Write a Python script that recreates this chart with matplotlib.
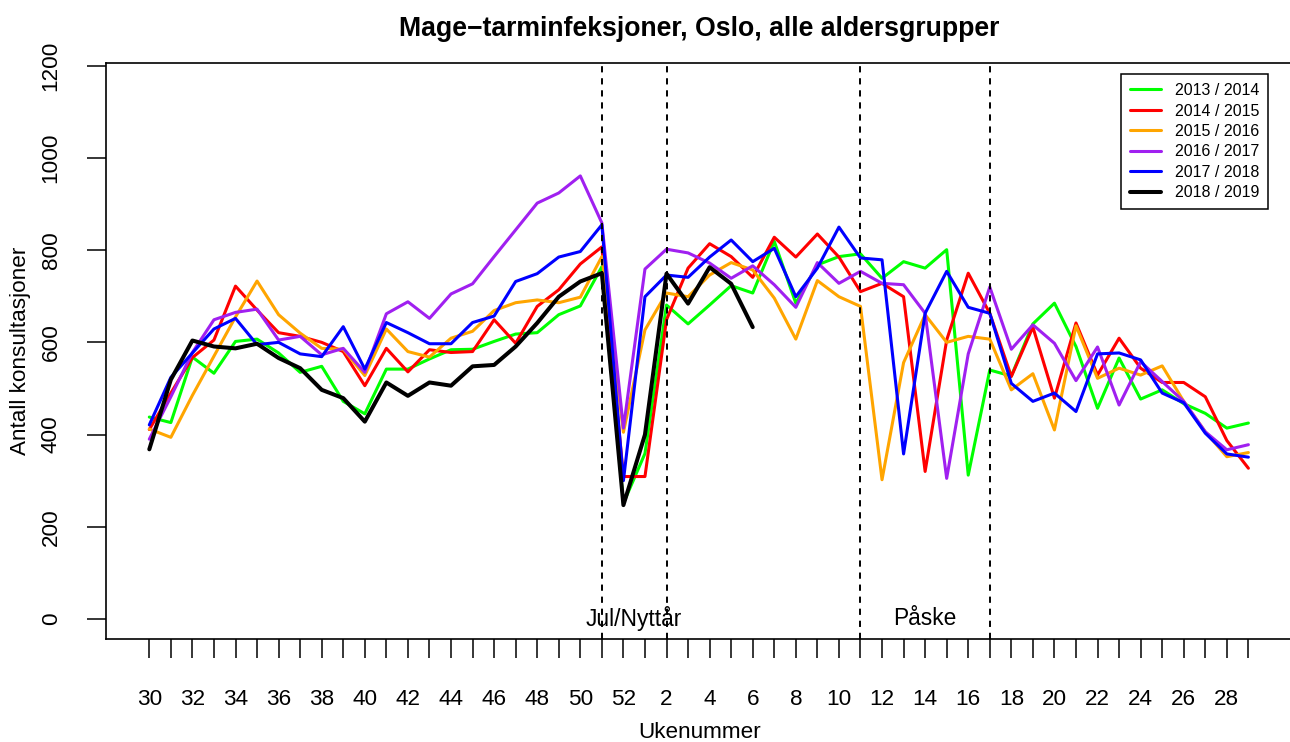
import matplotlib
matplotlib.use("Agg")
import matplotlib.pyplot as plt

plt.rcParams['font.family'] = ['Liberation Sans', 'DejaVu Sans']

# ---------------- data ----------------
weeks = [30, 31, 32, 33, 34, 35, 36, 37, 38, 39, 40, 41, 42, 43, 44, 45, 46, 47, 48, 49,
         50, 51, 52, 1, 2, 3, 4, 5, 6, 7, 8, 9, 10, 11, 12, 13, 14, 15, 16, 17, 18, 19,
         20, 21, 22, 23, 24, 25, 26, 27, 28, 29]
week_labels = ['30', '', '32', '', '34', '', '36', '', '38', '', '40', '', '42', '', '44', '',
               '46', '', '48', '', '50', '', '52', '', '2', '', '4', '', '6', '', '8', '',
               '10', '', '12', '', '14', '', '16', '', '18', '', '20', '', '22', '', '24', '',
               '26', '', '28', '']

season_labels = ['2013 / 2014', '2014 / 2015', '2015 / 2016',
                 '2016 / 2017', '2017 / 2018', '2018 / 2019']

s2013 = [438, 426, 568, 533, 602, 607, 577, 535, 548, 472, 445, 542, 542, 564, 584, 585,
         602, 618, 621, 660, 679, 764, 251, 359, 681, 640, 681, 723, 707, 819, 685, 768,
         786, 792, 739, 775, 761, 801, 312, 540, 527, 640, 685, 591, 457, 566, 477, 497,
         467, 446, 414, 425]
s2014 = [411, 490, 567, 605, 722, 670, 621, 613, 600, 580, 506, 587, 536, 584, 578, 580,
         649, 598, 678, 714, 770, 807, 309, 309, 649, 761, 814, 786, 741, 828, 785, 835,
         785, 710, 728, 699, 320, 605, 750, 663, 526, 633, 479, 642, 529, 609, 544, 513,
         513, 482, 387, 327]
s2015 = [412, 394, 485, 570, 655, 733, 660, 620, 587, 585, 528, 629, 580, 568, 609, 624,
         669, 686, 692, 686, 698, 786, 405, 627, 707, 699, 746, 773, 757, 696, 607, 734,
         699, 678, 302, 556, 660, 600, 613, 607, 497, 532, 410, 636, 522, 544, 529, 549,
         472, 406, 352, 361]
s2016 = [390, 482, 578, 649, 665, 672, 605, 613, 573, 587, 535, 662, 688, 652, 705, 727,
         786, 844, 902, 924, 961, 859, 414, 759, 802, 794, 772, 739, 766, 725, 676, 773,
         728, 754, 728, 725, 663, 305, 575, 720, 585, 638, 598, 517, 590, 464, 558, 515,
         472, 406, 367, 378]
s2017 = [421, 524, 577, 629, 652, 595, 600, 575, 569, 634, 542, 643, 621, 597, 597, 643,
         657, 732, 749, 785, 797, 855, 300, 699, 746, 741, 785, 822, 775, 804, 699, 761,
         850, 783, 779, 358, 663, 754, 676, 663, 511, 472, 490, 450, 575, 577, 562, 490,
         469, 403, 358, 351]
s2018 = [368, 519, 604, 591, 587, 597, 566, 544, 497, 479, 428, 513, 484, 513, 506, 548,
         551, 591, 642, 699, 732, 750, 247, 400, 749, 684, 763, 727, 633]

holiday_weeks = [51, 2, 11, 17]
holiday_texts = [('Jul/Nyttår', 51, 2), ('Påske', 11, 17)]
y_ticks = [0, 200, 400, 600, 800, 1000, 1200]

colors = ['#00FF00', '#FF0000', '#FFA500', '#A020F0', '#0000FF', '#000000']
widths = [2.2, 2.2, 2.2, 2.2, 2.2, 2.9]

# ---------------- figure ----------------
W, H = 1290, 742
fig = plt.figure(figsize=(W / 100, H / 100), dpi=100)
L, R, T, B = 105.7, 1293, 63, 639
ax = fig.add_axes([L / W, 1 - B / H, (R - L) / W, (B - T) / H])

for lab, vals, c, lw in zip(season_labels, [s2013, s2014, s2015, s2016, s2017, s2018],
                            colors, widths):
    ax.plot(range(len(vals)), vals, color=c, lw=lw, label=lab,
            solid_joinstyle='round', solid_capstyle='round')

for w in holiday_weeks:
    ax.axvline(weeks.index(w), color='black', lw=1.4, ls=(0, (3.2, 3)))

for txt, w0, w1 in holiday_texts:
    ax.text((weeks.index(w0) + weeks.index(w1)) / 2, 0, txt, ha='center', va='center',
            fontsize=16.4)

ax.set_xlim(-2.023, 53.07)
ax.set_ylim(-43.4, 1205.9)

ax.set_xticks(range(len(weeks)))
ax.set_xticklabels(week_labels, fontsize=16.2)
ax.set_yticks(y_ticks)
ax.set_yticklabels([str(v) for v in y_ticks], fontsize=16.2, rotation=90, va='center')
ax.tick_params(axis='x', length=13.7, width=1.1, pad=22, colors='black')
ax.tick_params(axis='y', length=13.7, width=1.1, pad=18, colors='black')
for sp in ax.spines.values():
    sp.set_linewidth(1.2)
    sp.set_color('black')

ax.set_xlabel('Ukenummer', fontsize=16.2)
ax.xaxis.label.set_va('center')
ax.xaxis.set_label_coords(0.5, (B - 733) / (B - T))
ax.set_ylabel('Antall konsultasjoner', fontsize=16.2)
ax.yaxis.label.set_va('center')
ax.yaxis.set_label_coords((21 - L) / (R - L), 0.5)

fig.text(699 / W, 1 - 29 / H, 'Mage\u2212tarminfeksjoner, Oslo, alle aldersgrupper',
         ha='center', va='center', fontsize=19.2, fontweight='bold')

leg = ax.legend(loc='upper right', bbox_to_anchor=(1268 / W, 1 - 74.3 / H),
                bbox_transform=fig.transFigure, fontsize=11.5, frameon=True,
                fancybox=False, edgecolor='black', framealpha=1, borderaxespad=0,
                handlelength=1.94, handletextpad=0.875, labelspacing=0.34, borderpad=0.55)
leg.get_frame().set_linewidth(1.1)

fig.savefig('out.png', dpi=100)
